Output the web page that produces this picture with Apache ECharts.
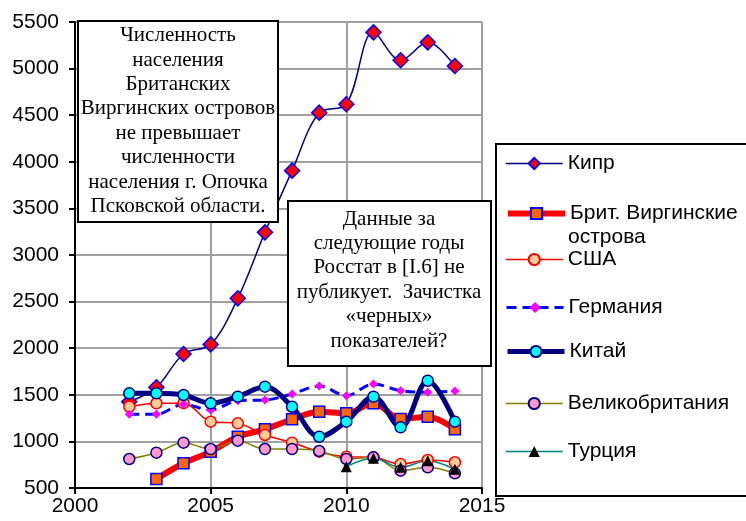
<!DOCTYPE html>
<html>
<head>
<meta charset="utf-8">
<script src="https://cdn.jsdelivr.net/npm/echarts@6/dist/echarts.min.js"></script>
<style>
  html, body { margin: 0; padding: 0; background: #fff; }
  #chart { width: 746px; height: 521px; }
</style>
</head>
<body>
<div id="chart"></div>
<script>
// годы и значения рядов (null = нет данных)
const years = [2002, 2003, 2004, 2005, 2006, 2007, 2008, 2009, 2010, 2011, 2012, 2013, 2014];

const cyprus  = [1425, 1580, 1938, 2041, 2535, 3243, 3905, 4527, 4617, 5389, 5089, 5282, 5028];
const bvi     = [null, 597, 765, 890, 1050, 1130, 1237, 1319, 1301, 1409, 1240, 1265, 1130];
const usa     = [1372, 1409, 1410, 1212, 1194, 1069, 986, 890, 836, 829, 757, 800, 776];
const germany = [1290, 1290, 1398, 1337, 1437, 1444, 1509, 1594, 1491, 1616, 1544, 1527, 1541];
const china   = [1516, 1516, 1498, 1409, 1480, 1587, 1372, 1050, 1212, 1480, 1151, 1651, 1212];
const uk      = [811, 879, 986, 918, 1008, 918, 918, 897, 811, 829, 686, 722, 657];
const turkey  = [null, null, null, null, null, null, null, null, 729, 818, 722, 793, 700];

const names = ['Кипр', 'Брит. Виргинские острова', 'США', 'Германия', 'Китай', 'Великобритания', 'Турция'];

const note1 = 'Численность\nнаселения\nБританских\nВиргинских островов\nне превышает\nчисленности\nнаселения г. Опочка\nПсковской области.';
const note2 = 'Данные за\nследующие годы\nРосстат в [I.6] не\nпубликует.  Зачистка\n«черных»\nпоказателей?';

const pairs = vals => years.map((y, i) => [y, vals[i]]).filter(p => p[1] != null);

const sans = 'Liberation Sans, Arial, sans-serif';
const serif = 'Liberation Serif, Times New Roman, serif';

let chart = echarts.init(document.getElementById('chart'), null, {renderer: 'canvas'});

let mkSeries = function(name, vals, line, sym) {
  return {
    name: name,
    type: 'line',
    smooth: 0.35,
    data: pairs(vals),
    lineStyle: line,
    symbol: sym.symbol,
    symbolSize: sym.size,
    itemStyle: sym.item,
    emphasis: {disabled: true}
  };
};

const lines = [
  {color: '#000080', width: 1.5},
  {color: '#ff0000', width: 6},
  {color: '#ff0000', width: 1.5},
  {color: '#0000ff', width: 3, type: [10, 6]},
  {color: '#000080', width: 5},
  {color: '#808000', width: 1.5},
  {color: '#008080', width: 1.5}
];

let series = [
  mkSeries(names[0], cyprus, lines[0],
    {symbol: 'diamond', size: 15, item: {color: '#ff0000', borderColor: '#0000ff', borderWidth: 1.5}}),
  mkSeries(names[1], bvi, lines[1],
    {symbol: 'rect', size: 11, item: {color: '#ff6600', borderColor: '#0000ff', borderWidth: 1.5}}),
  mkSeries(names[2], usa, lines[2],
    {symbol: 'circle', size: 11, item: {color: '#ffcc99', borderColor: '#ff0000', borderWidth: 1.5}}),
  mkSeries(names[3], germany, lines[3],
    {symbol: 'diamond', size: 9, item: {color: '#ff00ff', borderWidth: 0}}),
  mkSeries(names[4], china, lines[4],
    {symbol: 'circle', size: 11, item: {color: '#00ffff', borderColor: '#000080', borderWidth: 1.5}}),
  mkSeries(names[5], uk, lines[5],
    {symbol: 'circle', size: 11, item: {color: '#ff99cc', borderColor: '#000080', borderWidth: 1.5}}),
  mkSeries(names[6], turkey, lines[6],
    {symbol: 'triangle', size: 11, item: {color: '#000000', borderWidth: 0}})
];

// отдельная легенда для каждого ряда, чтобы выставить шаг как в оригинале
const legendTops = [153, 203, 249, 297, 341, 393, 441];
let legends = names.map((n, i) => ({
  data: [n],
  z: 120,
  left: 505,
  top: legendTops[i],
  padding: 0,
  orient: 'vertical',
  itemWidth: 57,
  itemHeight: 14,
  itemGap: 0,
  selectedMode: false,
  lineStyle: {width: lines[i].width, type: lines[i].type || 'solid', color: lines[i].color},
  formatter: n === names[1] ? 'Брит. Виргинские' : '{name}',
  textStyle: {fontFamily: sans, fontSize: 21, color: '#000'}
}));

let option = {
  animation: false,
  backgroundColor: '#fff',
  grid: {left: 75, right: 264, top: 22, bottom: 33, containLabel: false},
  legend: legends,
  xAxis: {
    type: 'value',
    min: 2000, max: 2015, interval: 5,
    axisLine: {lineStyle: {color: '#000', width: 2}},
    axisTick: {show: true, length: 6, lineStyle: {color: '#000', width: 2}},
    axisLabel: {fontFamily: sans, fontSize: 21, color: '#000', margin: 8, formatter: v => String(v)},
    splitLine: {show: true, lineStyle: {color: '#a0a0a0', width: 2}}
  },
  yAxis: {
    type: 'value',
    min: 500, max: 5500, interval: 500,
    axisLine: {show: true, lineStyle: {color: '#000', width: 2}},
    axisTick: {show: true, length: 6, lineStyle: {color: '#000', width: 2}},
    axisLabel: {fontFamily: sans, fontSize: 21, color: '#000', margin: 16, formatter: v => String(v)},
    splitLine: {show: true, lineStyle: {color: '#a0a0a0', width: 2}}
  },
  series: series,
  graphic: [
    {
      type: 'rect', z: 100,
      shape: {x: 78, y: 21, width: 200, height: 201},
      style: {fill: '#fff', stroke: '#000', lineWidth: 2}
    },
    {
      type: 'text', z: 101, x: 178, y: 121,
      style: {text: note1, font: '21px ' + serif, fill: '#000', align: 'center',
        verticalAlign: 'middle', lineHeight: 24.4}
    },
    {
      type: 'rect', z: 100,
      shape: {x: 288, y: 201, width: 203, height: 165},
      style: {fill: '#fff', stroke: '#000', lineWidth: 2}
    },
    {
      type: 'text', z: 101, x: 389, y: 280,
      style: {text: note2, font: '21px ' + serif, fill: '#000', align: 'center',
        verticalAlign: 'middle', lineHeight: 24.4}
    },
    {
      type: 'rect', z: 90,
      shape: {x: 496, y: 144, width: 270, height: 352},
      style: {fill: '#fff', stroke: '#000', lineWidth: 2}
    },
    // вторая строка подписи легенды БВО
    {
      type: 'text', z: 121, x: 568, y: 237,
      style: {text: 'острова', font: '21px ' + sans, fill: '#000', verticalAlign: 'middle'}
    }
  ]
};

chart.setOption(option);
</script>
</body>
</html>
